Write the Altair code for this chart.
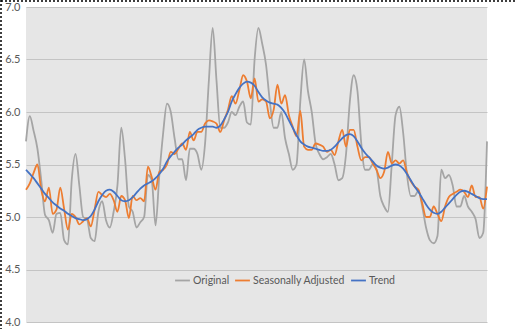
import altair as alt
import pandas as pd

original = [5.72, 5.96, 5.82, 5.65, 5.35, 5.02, 4.97, 4.85, 5.03, 5.04,
            4.78, 4.74, 5.35, 5.60, 5.30, 5.00, 4.98, 4.80, 4.77, 5.05,
            5.15, 4.97, 4.90, 5.05, 5.30, 5.85, 5.55, 5.10, 5.05, 4.90,
            4.95, 5.00, 5.40, 5.35, 4.92, 5.40, 5.80, 6.08, 6.00, 5.75,
            5.55, 5.55, 5.35, 5.65, 5.65, 5.60, 5.45, 5.70, 6.30, 6.80,
            6.30, 5.85, 5.85, 5.90, 6.00, 5.97, 6.05, 6.10, 5.90, 5.88,
            6.50, 6.80, 6.65, 6.45, 6.10, 5.85, 5.85, 6.00, 5.75, 5.60,
            5.45, 5.50, 6.10, 6.50, 6.20, 6.00, 5.70, 5.60, 5.55, 5.57,
            5.60, 5.50, 5.35, 5.37, 5.60, 6.10, 6.35, 6.20, 5.70, 5.45,
            5.45, 5.50, 5.45, 5.20, 5.10, 5.05, 5.50, 5.97, 6.05, 5.80,
            5.40, 5.20, 5.20, 5.25, 5.10, 4.90, 4.78, 4.75, 4.82, 5.45,
            5.37, 5.40, 5.30, 5.10, 5.10, 5.20, 5.10, 5.05, 4.98, 4.80,
            4.85, 5.72]

adjusted = [5.26, 5.32, 5.42, 5.50, 5.26, 5.15, 5.28, 5.03, 5.07, 5.28,
            5.08, 4.88, 5.03, 5.00, 4.93, 4.96, 4.99, 4.91, 5.07, 5.24,
            5.21, 5.19, 5.22, 5.16, 5.05, 5.20, 5.16, 4.99, 5.20, 5.16,
            5.18, 5.15, 5.48, 5.38, 5.26, 5.43, 5.45, 5.50, 5.62, 5.60,
            5.65, 5.70, 5.64, 5.81, 5.73, 5.81, 5.81, 5.89, 5.92, 5.91,
            5.89, 5.81, 5.92, 6.02, 6.15, 6.08, 6.21, 6.35, 6.29, 6.13,
            6.32, 6.10, 6.12, 6.10, 5.94, 6.02, 6.26, 6.08, 6.16, 5.97,
            5.86, 5.77, 6.01, 5.67, 5.64, 5.64, 5.70, 5.69, 5.67, 5.62,
            5.64, 5.59, 5.72, 5.83, 5.67, 5.83, 5.83, 5.67, 5.54, 5.57,
            5.57, 5.51, 5.45, 5.37, 5.43, 5.62, 5.51, 5.54, 5.51, 5.54,
            5.42, 5.34, 5.29, 5.26, 5.13, 5.00, 5.00, 5.10, 5.03, 4.96,
            5.10, 5.19, 5.22, 5.24, 5.26, 5.24, 5.19, 5.30, 5.19, 5.19,
            5.08, 5.29]

trend = [5.45, 5.41, 5.37, 5.32, 5.27, 5.22, 5.18, 5.14, 5.11, 5.08,
         5.06, 5.03, 5.01, 4.99, 4.98, 4.97, 4.98, 5.01, 5.07, 5.15,
         5.21, 5.25, 5.26, 5.24, 5.20, 5.16, 5.15, 5.16, 5.19, 5.23,
         5.27, 5.30, 5.32, 5.34, 5.37, 5.41, 5.46, 5.53, 5.58, 5.62,
         5.66, 5.69, 5.73, 5.76, 5.79, 5.83, 5.85, 5.86, 5.86, 5.86,
         5.85, 5.87, 5.93, 6.00, 6.10, 6.17, 6.23, 6.27, 6.29, 6.28,
         6.25, 6.19, 6.14, 6.11, 6.09, 6.08, 6.07, 6.04, 5.99, 5.92,
         5.85, 5.78, 5.72, 5.69, 5.67, 5.66, 5.65, 5.64, 5.63, 5.63,
         5.64, 5.67, 5.71, 5.75, 5.78, 5.79, 5.77, 5.72, 5.66, 5.61,
         5.57, 5.53, 5.49, 5.47, 5.46, 5.47, 5.49, 5.50, 5.49, 5.46,
         5.41, 5.35, 5.29, 5.24, 5.18, 5.12, 5.07, 5.04, 5.03, 5.05,
         5.09, 5.13, 5.17, 5.21, 5.24, 5.25, 5.24, 5.22, 5.20, 5.18,
         5.17, 5.17]

series_names = ["Original", "Seasonally Adjusted", "Trend"]
series_colors = ["#A5A5A5", "#ED7D31", "#4472C4"]
series_widths = [1.8, 1.8, 3.2]
y_ticks = [4.0, 4.5, 5.0, 5.5, 6.0, 6.5, 7.0]

rows = []
for name, vals in zip(series_names, [original, adjusted, trend]):
    for i, v in enumerate(vals):
        rows.append({"t": i, "value": v, "series": name})
df = pd.DataFrame(rows)

n = len(original)
x_enc = alt.X("t:Q", scale=alt.Scale(domain=[0, n - 1], nice=False, zero=False), axis=None)
y_enc = alt.Y("value:Q",
              scale=alt.Scale(domain=[4.0, 7.0], nice=False, zero=False),
              axis=alt.Axis(values=y_ticks, format=".1f", title=None, domain=False,
                            ticks=False, labelPadding=6, labelColor="#595959",
                            labelFontSize=11, labelFont="Lato",
                            gridColor="#c4c4c4", gridWidth=1))
color_enc = alt.Color("series:N",
                      scale=alt.Scale(domain=series_names, range=series_colors),
                      legend=alt.Legend(title=None, orient="none", legendX=148, legendY=265,
                                        direction="horizontal", symbolType="stroke",
                                        symbolSize=220, symbolStrokeWidth=2.2,
                                        labelFontSize=10.5, labelFont="Lato",
                                        labelColor="#595959", columnPadding=1,
                                        labelOffset=2))
sw_enc = alt.StrokeWidth("series:N",
                         scale=alt.Scale(domain=series_names, range=series_widths),
                         legend=None)

layers = []
for name in series_names:
    layers.append(
        alt.Chart(df).transform_filter(alt.datum.series == name)
        .mark_line(interpolate="monotone")
        .encode(x=x_enc, y=y_enc, color=color_enc, strokeWidth=sw_enc)
    )

border_df = pd.DataFrame({"k": [0]})
top_border = alt.Chart(border_df).mark_rule(color="black", strokeDash=[2, 2], strokeWidth=1.5).encode(
    x=alt.value(-25), x2=alt.value(520), y=alt.value(-6))
left_border = alt.Chart(border_df).mark_rule(color="black", strokeDash=[2, 2], strokeWidth=1.5).encode(
    x=alt.value(-25), y=alt.value(-7), y2=alt.value(330))

chart = alt.layer(*layers, top_border, left_border).properties(
    width=461, height=315,
    padding={"left": 26, "top": 7, "right": 30, "bottom": 7},
    autosize=alt.AutoSizeParams(type="none"),
    background="white",
).configure_view(fill="#e6e6e6", stroke=None)

chart.save("out.html", embed_options={"renderer": "svg", "actions": False})
